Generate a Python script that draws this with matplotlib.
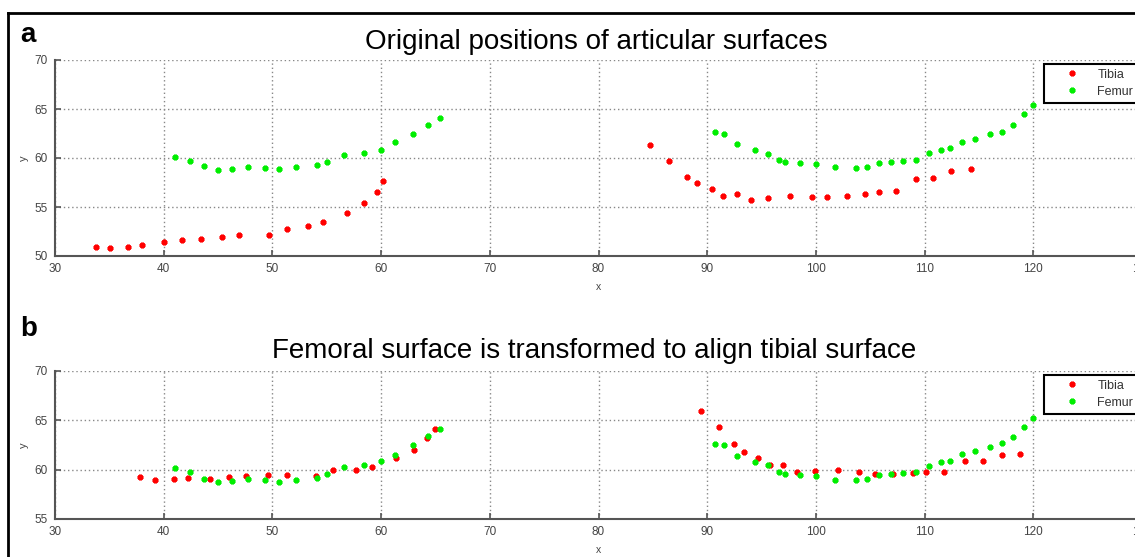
import numpy as np
import matplotlib
matplotlib.use("Agg")
import matplotlib.pyplot as plt
from matplotlib.lines import Line2D

plt.rcParams['font.family'] = ['Liberation Sans', 'DejaVu Sans']

# ---------------------------------------------------------------
# данные

# (a) исходные положения
tibia_a_x = [33.8, 35.1, 36.7, 38.0, 40.0, 41.7, 43.4, 45.4, 46.9, 49.7, 51.3, 53.3,
             54.7, 56.9, 58.4, 59.6, 60.2,
             84.7, 86.5, 88.1, 89.05, 90.4, 91.45, 92.7, 94.0, 95.6, 97.6, 99.6, 101.0,
             102.9, 104.5, 105.8, 107.4, 109.2, 110.8, 112.4, 114.3]
tibia_a_y = [50.9, 50.8, 50.95, 51.1, 51.4, 51.6, 51.7, 51.9, 52.1, 52.1, 52.8, 53.1,
             53.5, 54.35, 55.4, 56.5, 57.65,
             61.3, 59.7, 58.1, 57.5, 56.8, 56.1, 56.3, 55.7, 55.9, 56.1, 56.0, 55.97,
             56.1, 56.3, 56.5, 56.6, 57.9, 58.0, 58.7, 58.9]

femur_x = [41.0, 42.4, 43.7, 45.0, 46.3, 47.8, 49.3, 50.6, 52.2, 54.1, 55.05, 56.6,
           58.4, 60.0, 61.3, 62.9, 64.3, 65.4,
           90.7, 91.55, 92.7, 94.4, 95.6, 96.6, 97.2, 98.5, 100.0, 101.8, 103.7, 104.7,
           105.8, 106.9, 108.0, 109.2, 110.4, 111.5, 112.3, 113.4, 114.6, 116.0, 117.1,
           118.1, 119.1, 120.0]
femur_a_y = [60.1, 59.7, 59.2, 58.8, 58.9, 59.05, 59.0, 58.9, 59.1, 59.25, 59.6, 60.3,
             60.5, 60.85, 61.6, 62.5, 63.4, 64.1,
             62.7, 62.5, 61.4, 60.8, 60.4, 59.8, 59.6, 59.5, 59.4, 59.1, 59.0, 59.1,
             59.5, 59.6, 59.7, 59.8, 60.5, 60.85, 61.0, 61.6, 61.9, 62.4, 62.7,
             63.4, 64.5, 65.4]

# (b) после преобразования
tibia_b_x = [37.85, 39.2, 40.95, 42.2, 44.25, 46.0, 47.6, 49.6, 51.3, 54.0, 55.6, 57.7,
             59.2, 61.4, 63.0, 64.2, 65.0,
             89.4, 91.1, 92.5, 93.35, 94.7, 95.8, 97.0, 98.3, 99.9, 102.0, 104.0, 105.4,
             107.1, 108.9, 110.1, 111.75, 113.7, 115.4, 117.1, 118.8]
tibia_b_y = [59.3, 59.0, 59.1, 59.2, 59.1, 59.3, 59.4, 59.5, 59.5, 59.4, 60.0, 60.0,
             60.3, 61.2, 62.0, 63.2, 64.1,
             65.95, 64.3, 62.6, 61.8, 61.2, 60.45, 60.5, 59.75, 59.85, 59.95, 59.75, 59.6,
             59.6, 59.65, 59.75, 59.8, 60.9, 60.9, 61.5, 61.6]

femur_b_y = [60.2, 59.8, 59.1, 58.7, 58.9, 59.1, 59.0, 58.8, 59.0, 59.2, 59.6, 60.3,
             60.5, 60.9, 61.5, 62.5, 63.4, 64.1,
             62.6, 62.5, 61.4, 60.8, 60.5, 59.8, 59.6, 59.5, 59.35, 59.0, 59.0, 59.1,
             59.5, 59.55, 59.7, 59.8, 60.4, 60.8, 60.9, 61.6, 61.9, 62.3, 62.7,
             63.3, 64.3, 65.2]

titles = ["Original positions of articular surfaces",
          "Femoral surface is transformed to align tibial surface"]
letters = ["a", "b"]
ylims = [(50, 70), (55, 70)]
xticks = np.arange(30, 131, 10)

# ---------------------------------------------------------------
W, H = 1135, 557
fig = plt.figure(figsize=(W / 100, H / 100), dpi=100)

ax1 = fig.add_axes([55 / W, 1 - 256 / H, 1087 / W, 196 / H])
ax2 = fig.add_axes([55 / W, 1 - 519 / H, 1087 / W, 148 / H])

# внешняя рамка (обрезана справа и снизу)
fig.add_artist(Line2D([8 / W, 8 / W], [1 - 13 / H, 0], color='black', lw=2))
fig.add_artist(Line2D([8 / W, 1], [1 - 13 / H, 1 - 13 / H], color='black', lw=2))

star = (8, 2, 0)
sets = [(ax1, tibia_a_x, tibia_a_y, femur_a_y), (ax2, tibia_b_x, tibia_b_y, femur_b_y)]
for i, (ax, tx, ty, fy) in enumerate(sets):
    ax.plot(tx, ty, linestyle='none', marker=star, ms=4, mew=1.7,
            color='#ff0000', label='Tibia')
    ax.plot(femur_x, fy, linestyle='none', marker=star, ms=4, mew=1.7,
            color='#00ee00', label='Femur')
    ax.set_xlim(30, 130)
    ax.set_ylim(*ylims[i])
    ax.set_xticks(xticks)
    ax.set_yticks(np.arange(ylims[i][0], 71, 5))
    ax.grid(True, linestyle=(0, (1, 2)), color='#888888', lw=1)
    for s in ['top', 'right']:
        ax.spines[s].set_visible(False)
    for s in ['left', 'bottom']:
        ax.spines[s].set_color('#555555')
        ax.spines[s].set_linewidth(1.5)
    ax.tick_params(direction='in', length=4, width=1.2, color='#555555',
                   labelsize=8.5, labelcolor='#444444', pad=5)
    ax.set_xlabel('x', fontsize=7.5, color='#444444', labelpad=5)
    ax.set_ylabel('y', fontsize=8, color='#444444', labelpad=4)
    leg = ax.legend(loc='upper right', fontsize=9, fancybox=False, framealpha=1,
                    edgecolor='black', borderaxespad=0.3, handletextpad=0.1,
                    handlelength=3.8, labelspacing=0.4, borderpad=0.4)
    leg.get_frame().set_linewidth(1.5)
    for t in leg.get_texts():
        t.set_color('#333333')

fig.text(596 / W, 1 - 42 / H, titles[0], fontsize=20, ha='center', va='center')
fig.text(594 / W, 1 - 351 / H, titles[1], fontsize=20, ha='center', va='center')
fig.text(20 / W, 1 - 35 / H, letters[0], fontsize=20, fontweight='bold', va='center')
fig.text(20 / W, 1 - 329 / H, letters[1], fontsize=20, fontweight='bold', va='center')

fig.savefig('out.png', dpi=100)
